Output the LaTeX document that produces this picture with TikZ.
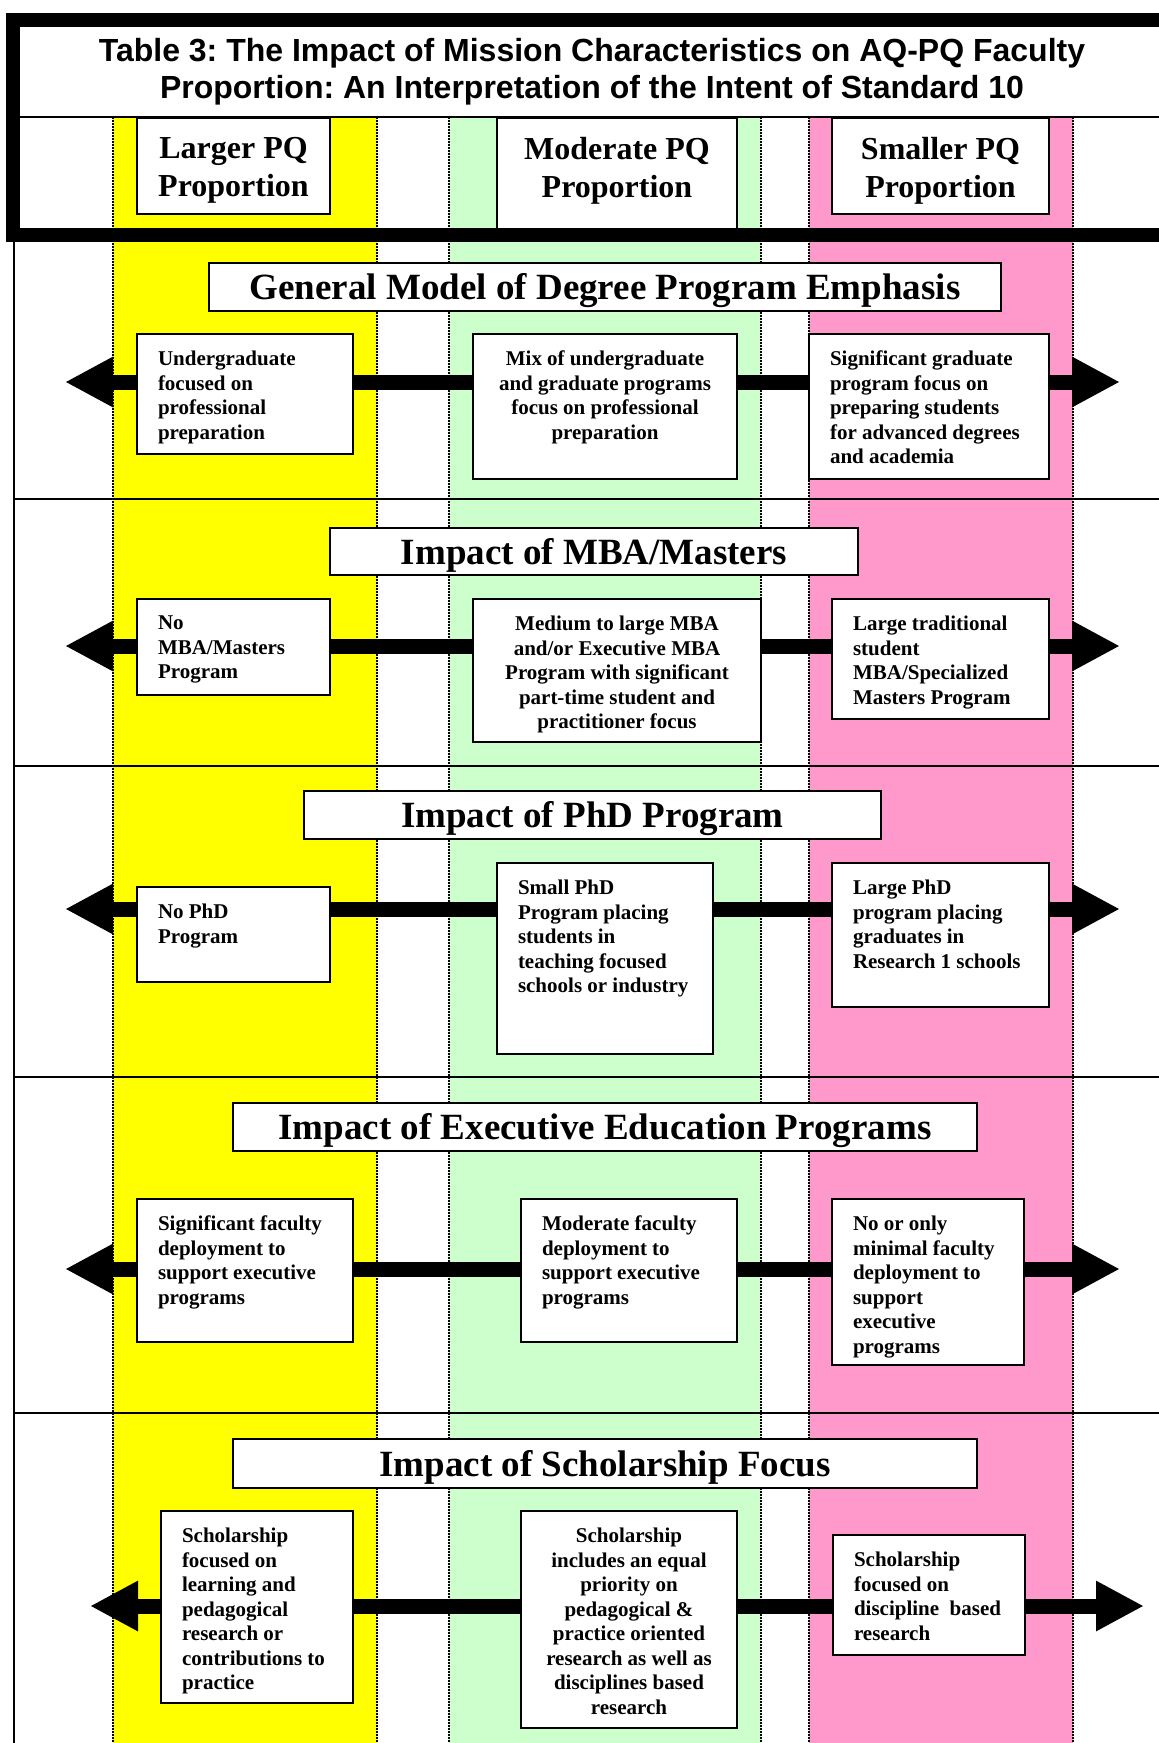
\documentclass[tikz,border=0pt]{standalone}
\usepackage{fontspec}
\setmainfont{Liberation Serif}
\newfontfamily\headsans{Liberation Sans}
\usetikzlibrary{arrows.meta,shadows}
\pgfdeclarelayer{bandlayer}
\pgfdeclarelayer{barlayer}
\pgfsetlayers{bandlayer,barlayer,main}
\definecolor{bandY}{RGB}{255,255,0}
\definecolor{bandG}{RGB}{204,255,204}
\definecolor{bandP}{RGB}{255,153,204}
\frenchspacing
\newcommand\cellfont{\fontsize{21}{24.5}\selectfont\bfseries}
\newcommand\hdfont{\fontsize{32}{38}\selectfont\bfseries}
\newcommand\cellL{\raggedright\leftskip=21pt\relax\cellfont}
\newcommand\cellC{\centering\cellfont}
\newcommand\hdC{\centering\hdfont}
\newcommand\lowered[1]{\raisebox{-4pt}[\height][\depth]{#1}}
% #1 name, #2 x, #3 y, #4 w, #5 h, #6 top skip, #7 format, #8 text
\newcommand\cellnode[8]{\node[cellbox, minimum width=#4pt, minimum height=#5pt] (#1) at (#2,#3) {\parbox[c][#5pt][t]{#4pt}{\vspace*{#6pt}#7#8}};}
\tikzset{
  cellbox/.style={draw=black, line width=2pt, fill=white, inner sep=0pt, anchor=north west,
    drop shadow={shadow xshift=1.3pt, shadow yshift=-1.3pt, fill=black!80, opacity=1}},
  rowtitle/.style={cellbox, font=\fontsize{37}{42}\selectfont\bfseries},
  bigbar/.style={line width=15pt, {Triangle[length=48pt,width=47pt]}-{Triangle[length=48pt,width=47pt]}},
  bandedge/.style={black, line width=1.3pt, dash pattern=on 1.5pt off 1.5pt},
  rowline/.style={black, line width=2pt},
}
\begin{document}
\begin{tikzpicture}[x=1pt,y=-1pt]
\useasboundingbox (0,0) rectangle (1159,1743);
\begin{pgfonlayer}{bandlayer}
  \fill[white] (0,0) rectangle (1159,1743);
  \fill[bandY] (113,117) rectangle (377,1743);
  \fill[bandG] (449,117) rectangle (761,1743);
  \fill[bandP] (809,117) rectangle (1073,1743);
  \foreach \xx in {113,377,449,761,809,1073} \draw[bandedge] (\xx,117) -- (\xx,1743);
\end{pgfonlayer}
% row frames
\draw[rowline] (14,240) -- (14,1743);
\foreach \yy in {499,766,1077,1413} \draw[rowline] (14,\yy) -- (1159,\yy);
% heading frame
\draw[line width=2pt] (20,117) -- (1159,117);
\draw[line width=14pt, line join=miter] (1159,20) -- (13,20) -- (13,235) -- (1159,235);
\node[font=\headsans\bfseries\fontsize{32}{37}\selectfont, align=center] (title) at (592,72)
  {Table 3: The Impact of Mission Characteristics on AQ-PQ Faculty\\Proportion: An Interpretation of the Intent of Standard 10};
% column heads
\cellnode{hL}{136}{117}{193}{96}{19}{\hdC}{Larger PQ\\Proportion}
\cellnode{hM}{496}{117}{240}{111}{19}{\hdC}{Moderate PQ\\Proportion}
\cellnode{hS}{831}{117}{217}{96}{19}{\hdC}{Smaller PQ\\Proportion}
\draw[line width=14pt] (20,235) -- (1159,235);
% row titles
\node[rowtitle, minimum width=792pt, minimum height=48pt] (t1) at (208,262) {\lowered{General Model of Degree Program Emphasis}};
\node[rowtitle, minimum width=528pt, minimum height=47pt] (t2) at (329,527) {\lowered{Impact of MBA/Masters}};
\node[rowtitle, minimum width=577pt, minimum height=48pt] (t3) at (303,790) {\lowered{Impact of PhD Program}};
\node[rowtitle, minimum width=744pt, minimum height=48pt] (t4) at (232,1102) {\lowered{Impact of Executive Education Programs}};
\node[rowtitle, minimum width=744pt, minimum height=49pt] (t5) at (232,1438) {\lowered{Impact of Scholarship Focus}};
% row 1
\cellnode{b11}{136}{333}{216}{120}{17}{\cellL}{Undergraduate\\focused on\\professional\\preparation}
\cellnode{b12}{472}{333}{264}{145}{17}{\cellC}{Mix of undergraduate\\and graduate programs\\focus on professional\\preparation}
\cellnode{b13}{808}{333}{240}{145}{17}{\cellL}{Significant graduate\\program focus on\\preparing students\\for advanced degrees\\and academia}
% row 2
\cellnode{b21}{136}{598}{193}{96}{17}{\cellL}{No\\MBA/Masters\\Program}
\cellnode{b22}{472}{598}{288}{143}{17}{\cellC}{Medium to large MBA\\and/or Executive MBA\\Program with significant\\part-time student and\\practitioner focus}
\cellnode{b23}{831}{598}{217}{120}{17}{\cellL}{Large traditional\\student\\MBA/Specialized\\Masters Program}
% row 3
\cellnode{b31}{136}{886}{193}{95}{17}{\cellL}{No PhD\\Program}
\cellnode{b32}{496}{862}{216}{191}{17}{\cellL}{Small PhD\\Program placing\\students in\\teaching focused\\schools or industry}
\cellnode{b33}{831}{862}{217}{144}{17}{\cellL}{Large PhD\\program placing\\graduates in\\Research 1 schools}
% row 4
\cellnode{b41}{136}{1198}{216}{143}{17}{\cellL}{Significant faculty\\deployment to\\support executive\\programs}
\cellnode{b42}{520}{1198}{216}{143}{17}{\cellL}{Moderate faculty\\deployment to\\support executive\\programs}
\cellnode{b43}{831}{1198}{192}{166}{17}{\cellL}{No or only\\minimal faculty\\deployment to\\support\\executive\\programs}
% row 5
\cellnode{b51}{160}{1510}{192}{192}{17}{\cellL}{Scholarship\\focused on\\learning and\\pedagogical\\research or\\contributions to\\practice}
\cellnode{b52}{520}{1510}{216}{217}{17}{\cellC}{Scholarship\\includes an equal\\priority on\\pedagogical \&\\practice oriented\\research as well as\\disciplines based\\research}
\cellnode{b53}{832}{1534}{192}{120}{17}{\cellL}{Scholarship\\focused on\\discipline\ \ based\\research}
% arrows
\coordinate (a1L) at (65,382);   \coordinate (a1R) at (1120,382);
\coordinate (a2L) at (65,646);   \coordinate (a2R) at (1120,646);
\coordinate (a3L) at (65,909);   \coordinate (a3R) at (1120,909);
\coordinate (a4L) at (65,1269);  \coordinate (a4R) at (1120,1269);
\coordinate (a5L) at (90,1606);  \coordinate (a5R) at (1144,1606);
\begin{pgfonlayer}{barlayer}
  \foreach \r in {1,...,5} \draw[bigbar] (a\r L) -- (a\r R);
\end{pgfonlayer}
\end{tikzpicture}
\end{document}
